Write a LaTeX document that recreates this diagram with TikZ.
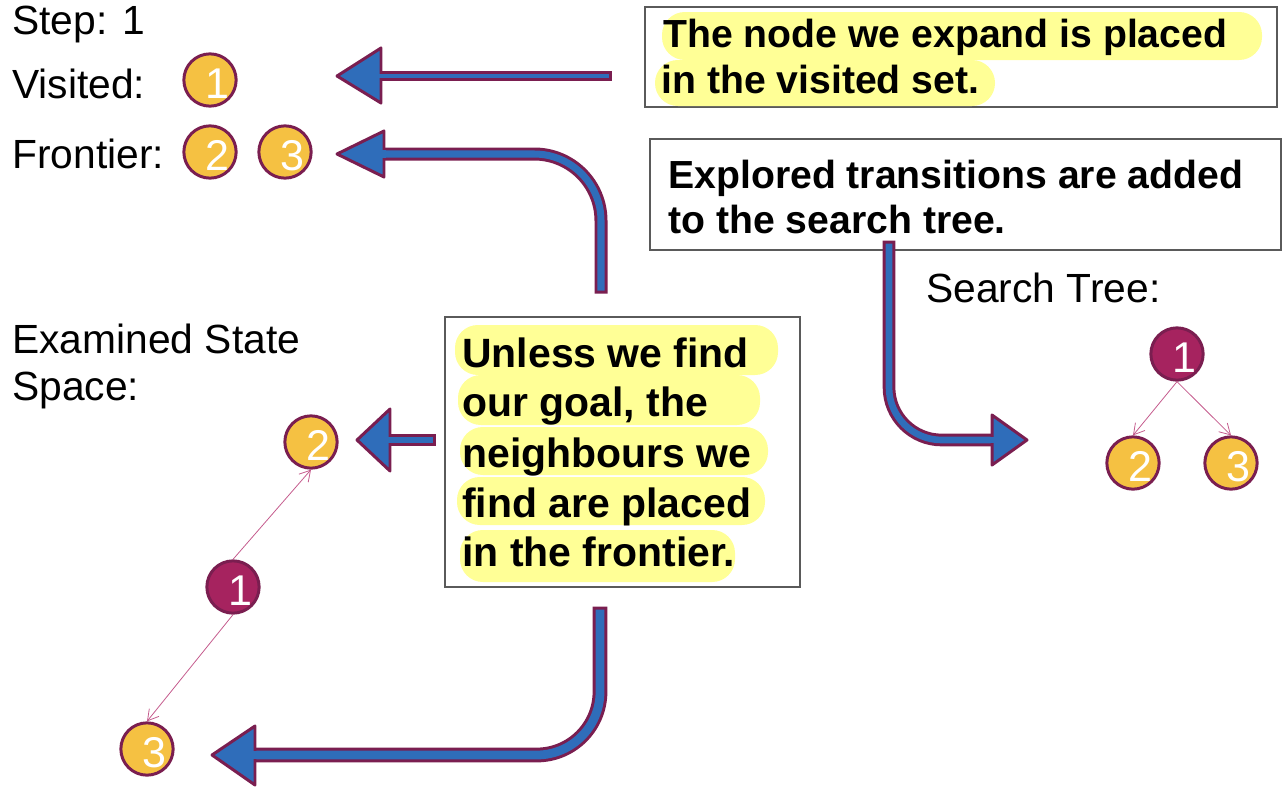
\documentclass[tikz,border=0pt]{standalone}
\usepackage{fontspec}
\setmainfont{Liberation Sans}
\usetikzlibrary{arrows.meta}

\definecolor{arrblue}{RGB}{47,109,186}
\definecolor{bord}{RGB}{122,30,80}
\definecolor{nodeyellow}{RGB}{245,193,66}
\definecolor{nodepurple}{RGB}{166,35,95}
\definecolor{edgepink}{RGB}{196,90,140}
\definecolor{hiyellow}{RGB}{255,255,150}
\definecolor{boxgray}{RGB}{90,90,90}

\begin{document}
\begin{tikzpicture}[x=0.02cm,y=-0.02cm,
  labeltext/.style={anchor=base west,inner sep=0pt,font=\fontsize{23.2pt}{28pt}\selectfont},
  boxtext/.style={anchor=base west,inner sep=0pt,font=\fontsize{22.3pt}{27pt}\selectfont\bfseries},
  bigboxtext/.style={boxtext,font=\fontsize{23.3pt}{28pt}\selectfont\bfseries},
  statenode/.style={circle,draw=bord,line width=1.7pt,minimum size=29.5pt,inner sep=0pt,
    text=white,text height=20.5pt,text depth=0pt,font=\fontsize{24.5pt}{27pt}\selectfont},
  frontnode/.style={statenode,fill=nodeyellow},
  opennode/.style={statenode,fill=nodepurple},
  treeedge/.style={draw=edgepink,line width=0.45pt,-{Straight Barb[length=6pt,width=7pt]}},
  arrowshaft/.style={draw=bord,line width=1.7pt,double=arrblue,line cap=rect},
  headtri/.style={fill=arrblue,draw=bord,line width=1.7pt,line join=round},
  cover/.style={draw=arrblue},
  hilite/.style={fill=hiyellow,rounded corners=13pt},
  textbox/.style={draw=boxgray,line width=0.8pt}]
\useasboundingbox (0,0) rectangle (1284,791);

% left column
\node[labeltext] (step) at (12,34) {Step: 1};
\node[labeltext] (visited) at (12,98) {Visited:};
\node[labeltext] (frontier) at (12,168) {Frontier:};
\node[labeltext] (examined) at (12,353) {Examined State};
\node[labeltext] (space) at (12,400) {Space:};
\node[labeltext] (search) at (926,302) {Search Tree:};

\node[frontnode] (v1) at (210,80) {\hspace{8pt}1};
\node[frontnode] (f2) at (210,152) {\hspace{8pt}2};
\node[frontnode] (f3) at (285,152) {\hspace{8pt}3};

% examined state space
\node[frontnode] (e2) at (311,442) {\hspace{8pt}2};
\node[opennode] (e1) at (233,587) {\hspace{8pt}1};
\node[frontnode] (e3) at (147,749) {\hspace{8pt}3};
\draw[treeedge] (e1.north) -- (e2.south);
\draw[treeedge] (e1.south) -- (e3.north);

% search tree
\node[opennode] (t1) at (1177,354) {\hspace{8pt}1};
\node[frontnode] (t2) at (1133,463) {\hspace{8pt}2};
\node[frontnode] (t3) at (1231,463) {\hspace{8pt}3};
\draw[treeedge] (t1.south) -- (t2.north);
\draw[treeedge] (t1.south) -- (t3.north);

% text boxes
\draw[textbox] (645,7) rectangle (1277,107);
\fill[hilite] (662,12) rectangle (1262,60);
\fill[hilite] (655,60) rectangle (995,106);
\node[boxtext] (visit1) at (663,47) {The node we expand is placed};
\node[boxtext] (visit2) at (661,93) {in the visited set.};

\draw[textbox] (650,139) rectangle (1281,250);
\node[boxtext] (trans1) at (668,188) {Explored transitions are added};
\node[boxtext] (trans2) at (668,233) {to the search tree.};

\draw[textbox] (445,317) rectangle (800,587);
\fill[hilite] (455,325) rectangle (778,375);
\fill[hilite] (458,375) rectangle (760,425);
\fill[hilite] (460,427) rectangle (768,475);
\fill[hilite] (457,477) rectangle (765,525);
\fill[hilite] (460,530) rectangle (735,582);
\node[bigboxtext] (nb1) at (462,367) {Unless we find};
\node[bigboxtext] (nb2) at (462,416) {our goal, the};
\node[bigboxtext] (nb3) at (462,467) {neighbours we};
\node[bigboxtext] (nb4) at (462,517) {find are placed};
\node[bigboxtext] (nb5) at (462,566) {in the frontier.};

% block arrows
\draw[arrowshaft,double distance=2.4pt] (607,76) -- (381,76);
\draw[headtri] (337,76) -- (381,48) -- (381,103) -- cycle;
\draw[cover,line width=2.4pt] (383,76) -- (378,76);

\draw[arrowshaft,double distance=4pt] (601,287) [rounded corners=38pt] |- (384,154);
\draw[headtri] (337,154) -- (384,131) -- (384,177) -- cycle;
\draw[cover,line width=4pt] (386,154) -- (381,154);

\draw[arrowshaft,double distance=3.8pt] (430,440) -- (390,440);
\draw[headtri] (357,440) -- (390,409) -- (390,471) -- cycle;
\draw[cover,line width=3.8pt] (392,440) -- (387,440);

\draw[arrowshaft,double distance=5pt] (600,614) [rounded corners=36pt] |- (255,755);
\draw[headtri] (212,755) -- (255,726) -- (255,785) -- cycle;
\draw[cover,line width=5pt] (257,755) -- (252,755);

\draw[arrowshaft,double distance=3.8pt] (889,247) [rounded corners=30pt] |- (992,440);
\draw[headtri] (1027,440) -- (992,415) -- (992,465) -- cycle;
\draw[cover,line width=3.8pt] (990,440) -- (995,440);
\end{tikzpicture}
\end{document}
